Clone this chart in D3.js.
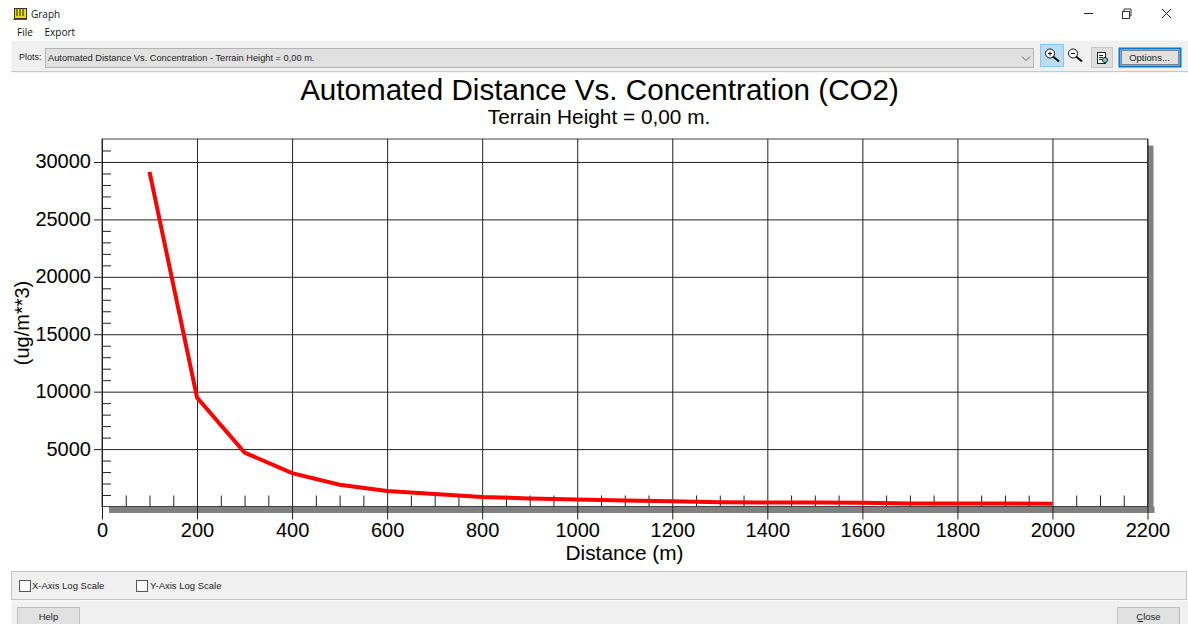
<!DOCTYPE html>
<html>
<head>
<meta charset="utf-8">
<style>
html, body { margin:0; padding:0; background:#fff; overflow:hidden; }
svg { display:block; }
.ui { font-family:"Liberation Sans", Arial, sans-serif; font-size:9.5px; fill:#222; }
.menu { font-family:"Open Sans", sans-serif; font-size:10px; fill:#111; }
.chart { font-family:"Liberation Sans", Arial, sans-serif; fill:#000; }
.axis text { font-family:"Liberation Sans", Arial, sans-serif; font-size:20px; fill:#000; }
.axis path { display:none; }
.axis line { stroke:#222; stroke-width:1; }
</style>
</head>
<body>
<svg id="graph" width="1188" height="624"></svg>
<script src="https://cdn.jsdelivr.net/npm/d3@7"></script>
<script>
// values
var distance = [100, 200, 300, 400, 500, 600, 700, 800, 900, 1000, 1100, 1200, 1300, 1400, 1500, 1600, 1700, 1800, 1900, 2000];
var concentration = [29130, 9480, 4700, 2900, 1900, 1350, 1090, 830, 700, 600, 520, 460, 375, 350, 340, 330, 270, 260, 255, 250];
var xTicks = [0, 200, 400, 600, 800, 1000, 1200, 1400, 1600, 1800, 2000, 2200];
var yTicks = [5000, 10000, 15000, 20000, 25000, 30000];
var xMinor = d3.range(50, 2200, 50).filter(function(d){ return d % 200 != 0; });
var yMinor = d3.range(1000, 32000, 1000).filter(function(d){ return d % 5000 != 0; });

var titleText = "Automated Distance Vs. Concentration (CO2)";
var subtitleText = "Terrain Height = 0,00 m.";
var plotText = "Automated Distance Vs. Concentration - Terrain Height = 0,00 m.";

var svg = d3.select("#graph");

var left = 102, right = 1147.5, top_ = 139, bottom = 506.5;
var x = d3.scaleLinear().domain([0, 2200]).range([left, right]);
var y = d3.scaleLinear().domain([0, 32000]).range([bottom, top_]);

function box(g, x0, y0, w, h, fill, stroke) {
  return g.append("rect").attr("x", x0 + .5).attr("y", y0 + .5).attr("width", w).attr("height", h)
    .attr("fill", fill).attr("stroke", stroke || "none");
}
function label(g, x0, y0, txt, cls, anchor) {
  return g.append("text").attr("x", x0).attr("y", y0).attr("class", cls).attr("text-anchor", anchor || "start").text(txt);
}

// window chrome
var chrome = svg.append("g");
box(chrome, 14, 8, 12, 10, "#e8e000", "#333");
chrome.append("path").attr("d", "M17 9V16M20 9V16M23 9V16").attr("stroke", "#222").attr("fill", "none");
chrome.append("path").attr("d", "M13 19.5H27").attr("stroke", "#555");
label(chrome, 31, 18, "Graph", "menu");
label(chrome, 17, 36, "File", "menu");
label(chrome, 44.5, 36, "Export", "menu");
chrome.append("path").attr("d", "M1084 13.5H1093").attr("stroke", "#222");
box(chrome, 1122, 11, 7, 7, "#fff", "#333");
chrome.append("path").attr("d", "M1124 11V9H1131V16H1129").attr("stroke", "#333").attr("fill", "none");
chrome.append("path").attr("d", "M1162 9L1171 18M1171 9L1162 18").attr("stroke", "#222").attr("fill", "none");

// toolbar
box(chrome, 11, 40, 1177, 32, "#f0f0f0");
chrome.append("path").attr("d", "M11 40.5H1188").attr("stroke", "#f8f8f8");
chrome.append("path").attr("d", "M11 71.5H1188").attr("stroke", "#c8c8c8");
label(chrome, 19, 60, "Plots:", "ui").style("font-size", "9px");
box(chrome, 45, 48, 988, 19, "#e1e1e1", "#b4b4b4");
label(chrome, 48, 61, plotText, "ui").style("font-size", "9.25px");
chrome.append("path").attr("d", "M1022 56.5L1026 60.5L1030 56.5").attr("stroke", "#666").attr("fill", "none");
box(chrome, 1040, 44, 23, 22, "#bbdcf6", "#90c5f0");
box(chrome, 1091, 47, 21, 20, "#dedede", "#c8c8c8");

function magnifier(cx, cy, sign) {
  var m = chrome.append("g");
  m.append("circle").attr("cx", cx).attr("cy", cy).attr("r", 4.5).attr("fill", "#fff").attr("stroke", "#111");
  m.append("path").attr("d", "M" + (cx + 3) + " " + (cy + 3) + "L" + (cx + 9) + " " + (cy + 8)).attr("stroke", "#111").attr("stroke-width", 2);
  m.append("path").attr("d", sign).attr("stroke", "#111");
}
magnifier(1050, 53.5, "M1048 53.5H1052M1050 51.5V55.5");
magnifier(1073, 53.5, "M1071 53.5H1075");
box(chrome, 1097, 52, 8, 11, "#fff", "#222");
chrome.append("path").attr("d", "M1099 55.5H1103M1099 57.5H1103M1099 59.5H1102").attr("stroke", "#222");
chrome.append("circle").attr("cx", 1105).attr("cy", 60).attr("r", 2.5).attr("fill", "#7fd0d0").attr("stroke", "#222");

box(chrome, 1119, 48, 61, 18, "#e1e1e1", "#0078d7").attr("stroke-width", 2);
box(chrome, 1121, 50, 57, 14, "none", "#222").attr("stroke-dasharray", "1,1");
label(chrome, 1149.5, 61, "Options...", "ui", "middle");

// bottom panels
box(chrome, 11, 600, 1177, 24, "#f0f0f0");
box(chrome, 11, 571, 1175, 28, "#f0f0f0", "#c4c4c4");
box(chrome, 19, 580, 11, 11, "#fff", "#555");
label(chrome, 32, 589, "X-Axis Log Scale", "ui");
box(chrome, 136, 580, 11, 11, "#fff", "#555");
label(chrome, 150, 589, "Y-Axis Log Scale", "ui");
box(chrome, 17, 607, 62, 20, "#e1e1e1", "#c0c0c0");
label(chrome, 48.5, 620, "Help", "ui", "middle");
box(chrome, 1117, 607, 62, 20, "#e1e1e1", "#c0c0c0");
label(chrome, 1148.5, 620, "Close", "ui", "middle");
chrome.append("path").attr("d", "M1137.5 621.5H1143").attr("stroke", "#222");

// titles
label(svg, 599.5, 100, titleText, "chart", "middle").style("font-size", "29.6px");
label(svg, 599, 124, subtitleText, "chart", "middle").style("font-size", "20.8px");
label(svg, 624.5, 560, "Distance (m)", "chart", "middle").style("font-size", "20.8px");
svg.append("text").attr("class", "chart").attr("text-anchor", "middle")
  .attr("transform", "translate(29,323) rotate(-90)")
  .style("font-size", "20px").text("(ug/m**3)");

// drop shadow behind the plot
box(svg, right - .5, top_ + 6, 6, bottom - top_, "#808080");
box(svg, left + 6.5, bottom - .5, right - left, 6.5, "#808080");

// plot frame and grid
box(svg, left - .5, top_ - .5, right - left, bottom - top_, "#fff", "#444");

svg.append("g").attr("class", "axis")
  .attr("transform", "translate(0," + (bottom + 13) + ")")
  .call(d3.axisBottom(x).tickValues(xTicks).tickSize(bottom + 13 - top_).tickPadding(0).tickFormat(d3.format("d")))
  .call(function(g){
    g.selectAll("line").attr("y1", 0).attr("y2", top_ - bottom - 13);
    g.selectAll("text").attr("y", 17.5).attr("dy", 0);
  });

svg.append("g").attr("class", "axis")
  .attr("transform", "translate(" + (left - 8) + ",0)")
  .call(d3.axisLeft(y).tickValues(yTicks).tickSize(0).tickPadding(3).tickFormat(d3.format("d")))
  .call(function(g){
    g.selectAll("line").attr("x1", 0).attr("x2", right - left + 8);
    g.selectAll("text").attr("dy", "0.3em");
  });

svg.append("g").attr("class", "axis")
  .attr("transform", "translate(0," + bottom + ")")
  .call(d3.axisTop(x).tickValues(xMinor).tickSize(11).tickFormat(""));

svg.append("g").attr("class", "axis")
  .attr("transform", "translate(" + left + ",0)")
  .call(d3.axisRight(y).tickValues(yMinor).tickSize(9).tickFormat(""));

var line = d3.line()
  .x(function(d, i){ return x(distance[i]); })
  .y(function(d){ return y(d); });

svg.append("path")
  .attr("d", line(concentration))
  .attr("fill", "none")
  .attr("stroke", "#ff0000")
  .attr("stroke-width", 4);
</script>
</body>
</html>
